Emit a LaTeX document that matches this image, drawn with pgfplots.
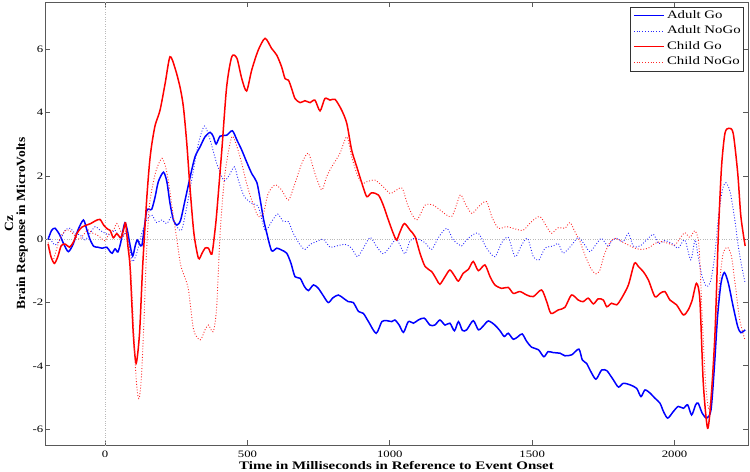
\documentclass[border=0pt]{standalone}
\usepackage{fontspec}
\setmainfont[FakeStretch=1.3]{Liberation Serif}
\newfontfamily\ylabfont[FakeStretch=1.08]{Liberation Serif}
\usepackage{pgfplots}
\pgfplotsset{compat=1.18}
\begin{document}
\begin{tikzpicture}
\useasboundingbox (-45bp,-27bp) rectangle (705bp,445bp);
\begin{axis}[
  at={(0,0)}, anchor=south west,
  scale only axis, width=703bp, height=443bp,
  xmin=-211, xmax=2258, ymin=-6.5, ymax=7.5,
  xtick={0,500,1000,1500,2000}, ytick={-6,-4,-2,0,2,4,6},
  scaled ticks=false,
  /pgf/number format/1000 sep={},
  tick align=inside, major tick length=5bp,
  axis line style={black!65, line width=0.8bp},
  tick style={black!65, line width=0.8bp},
  /pgf/number format/assume math mode=true,
  every tick label/.append style={font=\fontsize{9.8bp}{11bp}\selectfont},
  xticklabel style={inner sep=0bp, anchor=north, yshift=-5.5bp},
  yticklabel style={inner sep=0bp, anchor=east, xshift=-1.5bp},
  extra x ticks={0}, extra x tick labels={},
  extra y ticks={0}, extra y tick labels={},
  extra tick style={grid=major, major grid style={gray!55, dotted, line width=0.6bp}, major tick length=0pt},
  xlabel={Time in Milliseconds in Reference to Event Onset},
  xlabel style={at={([yshift=-16.5bp]axis description cs:0.5,0)}, anchor=north, inner sep=0bp,
    font=\bfseries\fontsize{11.5bp}{12bp}\selectfont},
  ylabel={Cz\\Brain Response in MicroVolts},
  ylabel style={at={([xshift=-17bp]axis description cs:0,0.5)}, anchor=south, rotate=0, inner sep=0bp, align=center,
    font=\ylabfont\bfseries\fontsize{12.5bp}{12bp}\selectfont},
  legend style={at={(0.9943,0.9894)}, anchor=north east, draw=black!80, line width=0.6bp,
    inner xsep=2.5bp, inner ysep=3bp, row sep=4bp, column sep=2bp,
    font=\fontsize{11.4bp}{12bp}\selectfont,
    nodes={inner sep=0.5bp, text height=8bp, text depth=2.5bp, anchor=west}},
  legend cell align=left,
  legend image code/.code={\draw[#1] (0bp,0bp) -- (30bp,0bp);},
  every axis plot/.append style={smooth, tension=0.45},
]
% Adult Go
\addplot[blue, line width=1.5bp] coordinates {
(-200,0.0) (-188,0.28) (-176,0.35) (-160,0.15) (-145,-0.15) (-129,-0.39) (-112,-0.15) (-95,0.3) (-76,0.61) (-64,0.3) (-53,0.0) (-40,-0.22) (-25,-0.25) (-10,-0.28) (6,-0.25) (17,-0.38) (25,-0.44) (35,-0.3) (45,-0.4) (55,-0.1) (62,0.25) (70,0.52) (78,0.3) (88,-0.2) (97,-0.53) (106,-0.2) (113,-0.02) (121,-0.15) (129,-0.2) (137,0.3) (146,0.9) (155,0.95) (164,0.95) (176,1.35) (187,1.82) (205,2.12) (217,1.82) (228,1.14) (240,0.61) (252,0.45) (265,0.6) (281,1.24) (299,1.98) (316,2.61) (334,2.93) (351,3.24) (369,3.38) (380,3.25) (390,3.01) (404,3.26) (427,3.29) (447,3.43) (463,3.14) (480,2.82) (497,2.45) (515,2.08) (533,1.8) (545,1.24) (556,0.66) (568,0.19) (585,-0.36) (603,-0.28) (620,-0.34) (638,-0.44) (653,-0.76) (667,-1.18) (685,-1.23) (700,-1.49) (714,-1.62) (732,-1.44) (749,-1.55) (767,-1.79) (784,-2.0) (800,-1.85) (819,-1.76) (837,-1.86) (854,-1.97) (872,-2.0) (890,-2.28) (907,-2.34) (925,-2.6) (952,-2.97) (972,-2.6) (989,-2.57) (1007,-2.6) (1018,-2.55) (1033,-2.71) (1048,-2.94) (1065,-2.6) (1083,-2.65) (1100,-2.55) (1121,-2.49) (1141,-2.71) (1158,-2.71) (1176,-2.55) (1194,-2.71) (1211,-2.65) (1227,-2.89) (1241,-2.6) (1255,-2.88) (1270,-2.86) (1293,-2.57) (1311,-2.86) (1328,-2.74) (1346,-2.58) (1369,-2.71) (1387,-2.89) (1402,-3.07) (1416,-2.97) (1434,-3.16) (1451,-3.07) (1465,-2.99) (1481,-3.23) (1498,-3.41) (1522,-3.49) (1541,-3.71) (1556,-3.55) (1574,-3.58) (1598,-3.6) (1615,-3.68) (1639,-3.65) (1664,-3.47) (1676,-3.81) (1691,-3.92) (1706,-4.18) (1724,-4.42) (1744,-4.13) (1762,-4.15) (1773,-4.28) (1785,-4.44) (1803,-4.67) (1820,-4.55) (1844,-4.6) (1867,-4.71) (1882,-4.97) (1896,-4.76) (1914,-4.86) (1931,-5.02) (1949,-5.18) (1961,-5.44) (1976,-5.65) (1996,-5.44) (2013,-5.28) (2031,-5.34) (2046,-5.23) (2060,-5.55) (2074,-5.23) (2083,-5.18) (2097,-5.49) (2113,-5.65) (2128,-5.39) (2140,-4.02) (2151,-2.44) (2163,-1.39) (2175,-1.05) (2189,-1.39) (2206,-2.13) (2222,-2.76) (2233,-2.95) (2248,-2.86)
};
\addlegendentry{Adult Go}
% Adult NoGo
\addplot[blue!85, line width=0.9bp, dash pattern=on 0.9bp off 1.9bp] coordinates {
(-200,0.08) (-188,-0.05) (-176,-0.18) (-158,-0.02) (-140,0.29) (-123,0.35) (-105,0.19) (-88,0.14) (-70,-0.02) (-53,0.19) (-35,0.4) (-18,0.29) (0,0.19) (18,0.14) (35,0.29) (53,0.03) (70,0.19) (84,-0.13) (96,-0.7) (111,-0.44) (129,0.19) (146,0.61) (164,0.77) (181,0.53) (199,0.61) (217,0.5) (234,0.72) (252,0.4) (269,0.3) (287,1.03) (304,1.87) (328,3.03) (349,3.58) (369,3.14) (392,2.4) (416,1.87) (433,1.98) (454,2.29) (468,1.87) (489,1.35) (515,1.14) (538,1.03) (562,0.29) (585,0.56) (606,0.8) (626,0.56) (644,0.56) (661,0.19) (685,-0.18) (702,-0.32) (720,-0.16) (743,-0.07) (767,0.0) (790,-0.25) (813,-0.21) (843,-0.16) (866,-0.28) (886,-0.55) (907,-0.28) (931,0.06) (954,-0.23) (977,-0.46) (1001,-0.23) (1024,0.0) (1053,-0.46) (1071,-0.04) (1094,0.03) (1124,-0.11) (1147,-0.32) (1171,0.06) (1200,0.35) (1223,-0.02) (1252,-0.21) (1264,-0.07) (1282,0.08) (1311,0.19) (1340,-0.28) (1369,-0.55) (1393,-0.11) (1416,0.06) (1440,-0.55) (1463,-0.18) (1484,0.03) (1504,-0.55) (1524,-0.65) (1545,-0.28) (1574,-0.21) (1592,-0.13) (1609,-0.44) (1639,-0.18) (1662,0.06) (1685,-0.18) (1703,-0.39) (1727,-0.13) (1744,0.03) (1767,-0.23) (1780,-0.04) (1797,0.03) (1820,-0.07) (1838,0.19) (1855,-0.21) (1879,-0.21) (1902,-0.02) (1926,0.16) (1943,-0.13) (1966,-0.04) (1990,-0.13) (2013,-0.28) (2036,-0.02) (2057,-0.65) (2072,-0.02) (2083,-0.55) (2097,-1.18) (2113,-1.49) (2128,-1.28) (2142,-0.44) (2154,0.72) (2168,1.56) (2180,1.79) (2195,1.51) (2210,0.72) (2224,-0.23) (2236,-0.86) (2248,-1.39)
};
\addlegendentry{Adult NoGo}
% Child Go
\addplot[red, line width=1.5bp] coordinates {
(-200,-0.15) (-190,-0.55) (-178,-0.76) (-166,-0.55) (-154,-0.2) (-140,-0.15) (-125,-0.25) (-112,-0.1) (-98,0.2) (-82,0.38) (-65,0.45) (-50,0.5) (-35,0.58) (-18,0.63) (-5,0.45) (8,0.33) (18,0.28) (29,0.05) (41,0.18) (55,0.05) (65,0.3) (72,0.52) (80,-0.2) (88,-0.9) (99,-2.97) (109,-3.92) (121,-2.97) (132,-0.86) (146,1.24) (156,2.4) (164,3.0) (176,3.61) (193,4.08) (211,4.93) (228,5.77) (246,5.4) (263,4.82) (275,4.19) (287,3.03) (298,1.66) (312,0.19) (328,-0.6) (340,-0.45) (351,-0.28) (363,-0.28) (375,-0.47) (385,0.2) (392,0.82) (410,2.82) (427,4.82) (445,5.77) (463,5.72) (480,5.08) (497,4.69) (515,5.35) (538,5.98) (562,6.35) (585,6.03) (603,5.82) (620,5.45) (632,5.08) (644,5.03) (655,4.77) (667,4.45) (685,4.32) (702,4.38) (720,4.32) (737,4.4) (755,4.06) (772,4.45) (790,4.4) (808,4.42) (831,4.08) (849,3.66) (866,2.82) (884,2.29) (902,1.77) (919,1.35) (936,1.47) (960,1.4) (977,1.08) (995,0.61) (1012,0.19) (1024,-0.02) (1036,0.24) (1051,0.5) (1071,0.29) (1089,0.08) (1106,-0.44) (1124,-0.86) (1147,-1.02) (1165,-1.28) (1176,-1.42) (1194,-1.18) (1211,-0.97) (1229,-1.18) (1241,-1.32) (1258,-1.07) (1276,-0.95) (1293,-0.7) (1311,-0.99) (1334,-0.81) (1352,-1.18) (1369,-1.44) (1393,-1.55) (1416,-1.52) (1434,-1.71) (1457,-1.65) (1481,-1.76) (1504,-1.81) (1533,-1.6) (1551,-1.97) (1566,-2.34) (1592,-2.23) (1615,-2.15) (1638,-1.76) (1662,-1.92) (1679,-1.97) (1697,-1.86) (1715,-2.04) (1732,-1.88) (1750,-1.92) (1762,-2.13) (1779,-2.02) (1797,-2.07) (1814,-1.86) (1838,-1.44) (1859,-0.76) (1873,-0.86) (1890,-1.02) (1908,-1.28) (1931,-1.81) (1949,-1.71) (1966,-1.65) (1984,-1.92) (2007,-2.07) (2031,-2.39) (2048,-2.23) (2062,-1.92) (2077,-1.39) (2089,-1.92) (2101,-4.55) (2116,-5.97) (2128,-5.07) (2142,-2.97) (2154,0.19) (2165,2.29) (2177,3.35) (2191,3.51) (2206,3.35) (2222,2.08) (2233,0.72) (2248,-0.21)
};
\addlegendentry{Child Go}
% Child NoGo
\addplot[red!85, line width=0.9bp, dash pattern=on 0.9bp off 1.9bp] coordinates {
(-200,-0.1) (-190,-0.5) (-182,-0.65) (-170,-0.3) (-155,0.1) (-135,0.3) (-120,0.25) (-105,0.1) (-90,0.0) (-75,0.15) (-60,0.3) (-45,0.2) (-30,0.15) (-15,0.05) (0,-0.05) (15,0.2) (30,0.3) (41,0.5) (55,0.25) (65,0.1) (75,0.3) (85,-0.3) (95,-1.8) (105,-3.8) (113,-4.8) (120,-5.02) (128,-4.3) (137,-2.5) (145,-0.5) (155,1.0) (165,1.6) (180,2.2) (200,2.56) (215,2.2) (228,1.5) (240,0.7) (252,0.0) (265,-0.8) (280,-1.2) (293,-1.6) (311,-2.86) (334,-3.18) (351,-2.86) (363,-2.71) (380,-2.92) (392,-2.13) (404,0.19) (421,2.08) (445,3.24) (463,2.93) (480,2.4) (497,1.77) (515,1.24) (538,0.72) (556,0.82) (573,1.45) (597,1.72) (620,1.56) (644,1.24) (667,1.77) (691,2.4) (714,2.72) (737,2.08) (761,1.56) (778,1.98) (796,2.29) (825,2.72) (849,3.24) (866,2.61) (884,2.08) (902,1.77) (919,1.82) (948,1.87) (977,1.66) (1001,1.45) (1024,1.56) (1044,1.61) (1065,1.03) (1094,0.61) (1124,1.08) (1153,1.08) (1176,0.93) (1217,0.72) (1247,1.4) (1264,1.14) (1288,0.82) (1317,1.08) (1340,1.19) (1358,0.72) (1381,0.35) (1410,0.4) (1440,0.33) (1469,0.29) (1498,0.56) (1527,0.72) (1551,0.4) (1568,0.19) (1592,0.37) (1615,0.35) (1633,0.53) (1650,0.24) (1668,-0.07) (1685,-0.49) (1706,-0.92) (1724,-1.09) (1738,-0.97) (1753,-0.49) (1773,-0.1) (1791,0.03) (1814,-0.07) (1838,-0.18) (1861,-0.28) (1884,-0.32) (1908,-0.28) (1931,-0.13) (1955,-0.07) (1978,-0.13) (2001,-0.18) (2019,0.03) (2036,0.21) (2054,0.06) (2072,0.27) (2086,-0.23) (2097,-2.44) (2109,-4.55) (2121,-5.39) (2132,-4.55) (2148,-2.44) (2160,-1.18) (2171,-0.44) (2186,-0.25) (2200,-0.55) (2214,-1.49) (2229,-2.55) (2248,-3.2)
};
\addlegendentry{Child NoGo}
\end{axis}
\end{tikzpicture}
\end{document}
